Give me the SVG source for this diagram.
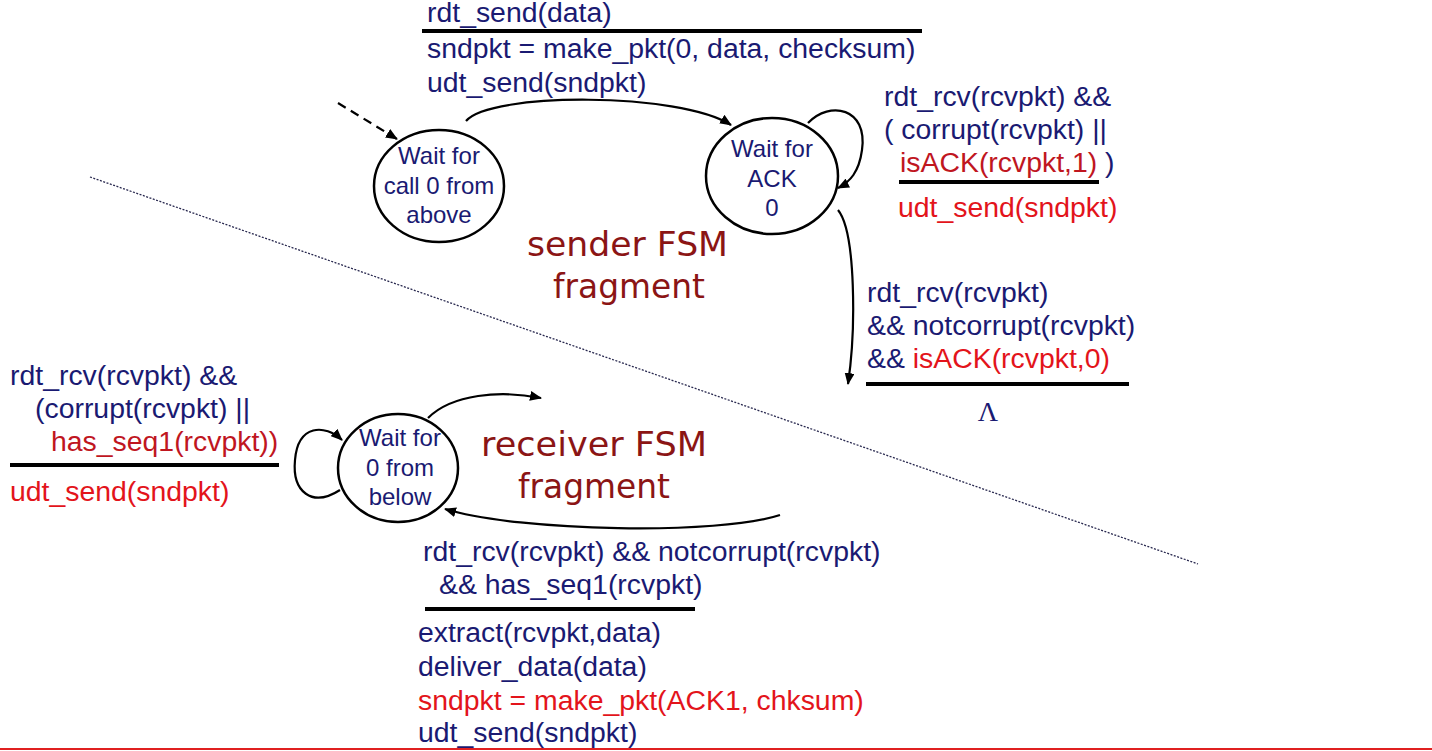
<svg xmlns="http://www.w3.org/2000/svg" width="1432" height="751" viewBox="0 0 1432 751">
<defs>
<marker id="ah" viewBox="0 0 12 10" refX="11" refY="5" markerWidth="12" markerHeight="10" markerUnits="userSpaceOnUse" orient="auto">
<path d="M0,0 L12,5 L0,10 Z" fill="#000"/>
</marker>
<style>
text{font-family:"Liberation Sans",Arial,sans-serif;}
.t{font-size:28.4px;fill:#1a1a72;}
.r{fill:#e3141b;}
.dr{fill:#c0161f;}
.st{font-size:24px;fill:#1a1a72;text-anchor:middle;}
.ti{font-family:"DejaVu Sans",sans-serif;font-size:33px;fill:#8b1515;}
.bar{stroke:#000;stroke-width:4;}
.node{fill:#fff;stroke:#000;stroke-width:2.5;}
.edge{fill:none;stroke:#000;stroke-width:2.2;marker-end:url(#ah);}
</style>
</defs>
<rect width="1432" height="751" fill="#fff"/>
<line x1="90" y1="177" x2="1198" y2="564" stroke="#2a2a50" stroke-width="1.3" stroke-dasharray="2,1.5"/>
<g id="connectors">
<path class="edge" d="M338,103 L397,139" stroke-dasharray="9,6"/>
<path class="edge" d="M466,121 C490,92 680,92 731,125"/>
<path class="edge" d="M808,123 C830,100 868,108 862,150 C859,172 850,182 838,188"/>
<path class="edge" d="M838,210 C856,232 856,330 848,384"/>
<path class="edge" d="M340,490 C312,508 292,492 295,460 C298,424 325,424 342,440"/>
<path class="edge" d="M428,418 C452,394 500,390 541,398"/>
<path class="edge" d="M780,515 C720,535 520,532 445,509"/>
</g>
<g id="s_wait_call0">
<ellipse class="node" cx="439" cy="186" rx="65" ry="56"/>
<text class="st" x="439" y="164">Wait for</text>
<text class="st" x="439" y="194">call 0 from</text>
<text class="st" x="439" y="223">above</text>
</g>
<g id="s_wait_ack0">
<ellipse class="node" cx="772" cy="176" rx="66" ry="58"/>
<text class="st" x="772" y="157">Wait for</text>
<text class="st" x="772" y="187">ACK</text>
<text class="st" x="772" y="216">0</text>
</g>
<g id="r_wait_0">
<ellipse class="node" cx="398" cy="468" rx="60" ry="54"/>
<text class="st" x="400" y="446">Wait for</text>
<text class="st" x="400" y="476">0 from</text>
<text class="st" x="400" y="505">below</text>
</g>
<g id="label_send">
<text class="t" x="427" y="22">rdt_send(data)</text>
<line class="bar" x1="422" y1="31" x2="922" y2="31"/>
<text class="t" x="427" y="58">sndpkt = make_pkt(0, data, checksum)</text>
<text class="t" x="427" y="92">udt_send(sndpkt)</text>
</g>
<g id="label_ack_loop">
<text class="t" x="884" y="106">rdt_rcv(rcvpkt) &amp;&amp;</text>
<text class="t" x="884" y="139">( corrupt(rcvpkt) ||</text>
<text class="t" x="900" y="172"><tspan class="dr">isACK(rcvpkt,1)</tspan> )</text>
<line class="bar" x1="899" y1="182" x2="1099" y2="182"/>
<text class="t r" x="898" y="217">udt_send(sndpkt)</text>
</g>
<g id="label_ack0">
<text class="t" x="867" y="302">rdt_rcv(rcvpkt)</text>
<text class="t" x="867" y="335">&amp;&amp; notcorrupt(rcvpkt)</text>
<text class="t" x="867" y="368">&amp;&amp; <tspan class="r">isACK(rcvpkt,0)</tspan></text>
<line class="bar" x1="866" y1="384" x2="1129" y2="384"/>
<text x="988" y="421" text-anchor="middle" style="font-family:'Liberation Serif',serif;font-size:28px;fill:#1a1a72">Λ</text>
</g>
<g id="titles">
<text class="ti" x="527" y="256" textLength="201" lengthAdjust="spacingAndGlyphs">sender FSM</text>
<text class="ti" x="553" y="298" textLength="152" lengthAdjust="spacingAndGlyphs">fragment</text>
<text class="ti" x="481" y="456" textLength="226" lengthAdjust="spacingAndGlyphs">receiver FSM</text>
<text class="ti" x="518" y="498" textLength="152" lengthAdjust="spacingAndGlyphs">fragment</text>
</g>
<g id="label_rcv_loop">
<text class="t" x="10" y="385">rdt_rcv(rcvpkt) &amp;&amp;</text>
<text class="t" x="35" y="418">(corrupt(rcvpkt) ||</text>
<text class="t dr" x="51" y="451">has_seq1(rcvpkt))</text>
<line class="bar" x1="10" y1="465" x2="279" y2="465"/>
<text class="t r" x="10" y="501">udt_send(sndpkt)</text>
</g>
<g id="label_rcv">
<text class="t" x="423" y="561">rdt_rcv(rcvpkt) &amp;&amp; notcorrupt(rcvpkt)</text>
<text class="t" x="439" y="594">&amp;&amp; has_seq1(rcvpkt)</text>
<line class="bar" x1="425" y1="609" x2="695" y2="609"/>
<text class="t" x="418" y="642">extract(rcvpkt,data)</text>
<text class="t" x="418" y="676">deliver_data(data)</text>
<text class="t r" x="418" y="710">sndpkt = make_pkt(ACK1, chksum)</text>
<text class="t" x="418" y="742">udt_send(sndpkt)</text>
</g>
<line x1="0" y1="749" x2="1432" y2="749" stroke="#e02020" stroke-width="2"/>
</svg>
